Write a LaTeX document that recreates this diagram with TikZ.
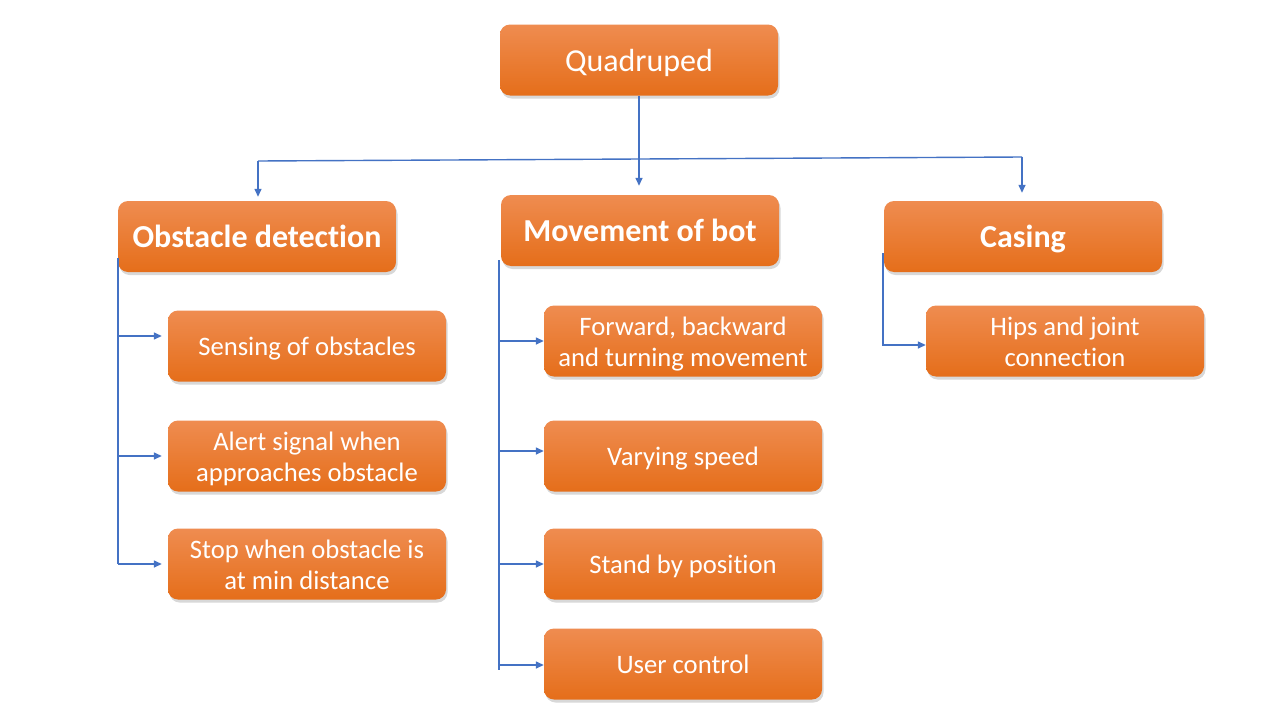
\documentclass[tikz,border=0pt]{standalone}
\usepackage{fontspec}
\setmainfont{Carlito}[Ligatures={NoCommon}]
\usetikzlibrary{arrows.meta,shadows,calc}
\definecolor{otop}{RGB}{239,140,80}
\definecolor{omid}{RGB}{243,125,42}
\definecolor{obot}{RGB}{229,110,26}
\definecolor{lineblue}{RGB}{68,114,196}
\newcommand{\bt}[1]{\raisebox{-3.5pt}[\height][\depth]{\begin{tabular}{@{}c@{}}#1\end{tabular}}}
\tikzset{
  box/.style={rounded corners=10pt, minimum width=278pt, minimum height=71pt,
    top color=otop, middle color=omid, bottom color=obot, draw=none,
    text=white, inner sep=0pt,
    font=\fontsize{26.67}{31.5}\selectfont,
    drop shadow={shadow xshift=1.5pt, shadow yshift=-3pt, opacity=0.25, fill=black!60}},
  headbox/.style={box, font=\fontsize{32}{38}\selectfont\bfseries},
  topbox/.style={box, font=\fontsize{32}{38}\selectfont},
  conn/.style={draw=lineblue, line width=1.4pt},
  arr/.style={conn, -{Triangle[length=8pt,width=7pt]}}
}
\begin{document}
\begin{tikzpicture}[x=1pt,y=-1pt]
\useasboundingbox (0,0) rectangle (1280,720);
\fill[white] (0,0) rectangle (1280,720);
% nodes
\node[topbox] (q) at (639,60) {\bt{Quadruped}};
\node[headbox] (ob) at (257,236.5) {\bt{Obstacle detection}};
\node[headbox] (mv) at (640,230.5) {\bt{Movement of bot}};
\node[headbox] (cs) at (1023,236.5) {\bt{Casing}};
\node[box] (s1) at (307,346) {\bt{Sensing of obstacles}};
\node[box] (s2) at (307,456) {\bt{Alert signal when\\approaches obstacle}};
\node[box] (s3) at (307,564) {\bt{Stop when obstacle is\\at min distance}};
\node[box] (m1) at (683,341) {\bt{Forward, backward\\and turning movement}};
\node[box] (m2) at (683,456) {\bt{Varying speed}};
\node[box] (m3) at (683,564) {\bt{Stand by position}};
\node[box] (m4) at (683,664) {\bt{User control}};
\node[box] (c1) at (1065,341) {\bt{Hips and joint\\connection}};
% top connectors
\coordinate (hl) at (258,161);
\coordinate (hr) at (1022,157);
\draw[arr, shorten >=9pt] (q.south) -- (q.south |- mv.north);
\draw[conn] (hl) -- (hr);
\draw[arr, shorten >=4pt] (hl) -- (hl |- ob.north);
\draw[arr, shorten >=8pt] (hr) -- (hr |- cs.north);
% left trunk
\coordinate (lt1) at (118,258);
\coordinate (lt2) at (118,564);
\draw[conn] (lt1) -- (lt2);
\path ([yshift=10pt]s1.west) coordinate (s1a);
\draw[arr, shorten >=6pt] (s1a -| lt1) -- (s1a);
\draw[arr, shorten >=6pt] (s2.west -| lt1) -- (s2.west);
\draw[arr, shorten >=6pt] (s3.west -| lt1) -- (s3.west);
% middle trunk
\coordinate (mt1) at (499,260);
\coordinate (mt2) at (499,670);
\draw[conn] (mt1) -- (mt2);
\path ([yshift=5pt]m2.west) coordinate (m2a);
\path ([yshift=-1pt]m4.west) coordinate (m4a);
\draw[arr] (m1.west -| mt1) -- (m1.west);
\draw[arr] (m2a -| mt1) -- (m2a);
\draw[arr] (m3.west -| mt1) -- (m3.west);
\draw[arr] (m4a -| mt1) -- (m4a);
% casing trunk
\coordinate (ct1) at (883,253);
\path ([yshift=-4pt]c1.west) coordinate (c1a);
\draw[arr] (ct1) |- (c1a);
\end{tikzpicture}
\end{document}
